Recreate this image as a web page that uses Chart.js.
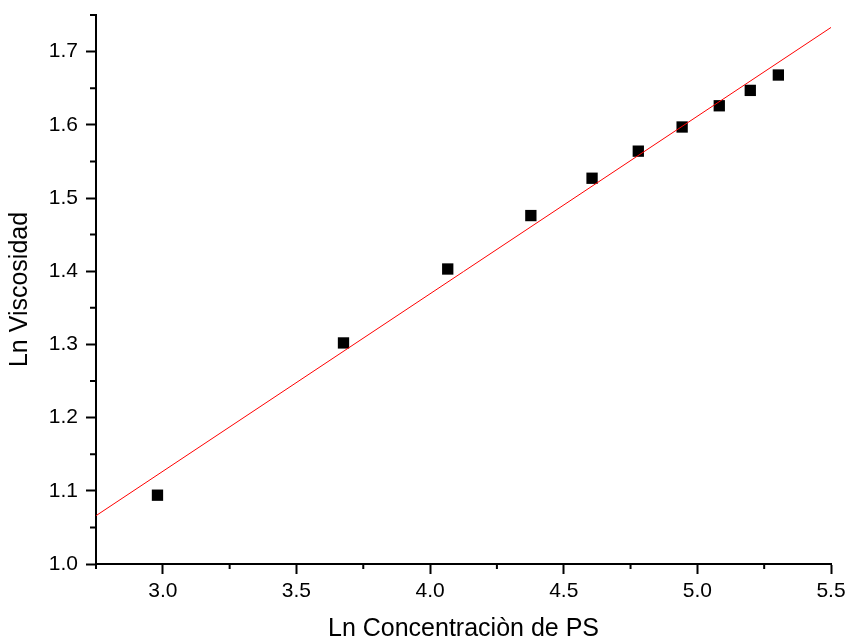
<!DOCTYPE html>
<html>
<head>
<meta charset="utf-8">
<title>Ln Viscosidad vs Ln Concentración</title>
<script src="https://cdn.jsdelivr.net/npm/chart.js@4/dist/chart.umd.min.js"></script>
<style>
  html, body { margin: 0; padding: 0; background: #fff; }
  canvas { display: block; }
</style>
</head>
<body>
<canvas id="chart" width="849" height="642"></canvas>
<script>
// data
let lnConc = [2.98, 3.676, 4.066, 4.377, 4.606, 4.779, 4.943, 5.082, 5.198, 5.303];
let lnVisc = [1.094, 1.302, 1.403, 1.476, 1.527, 1.564, 1.597, 1.626, 1.647, 1.668];

// linear fit (ends of the red line)
let fitX = [2.75, 5.5];
let fitY = [1.066, 1.733];

// axes
let xRange = [2.75, 5.5];
let yRange = [1.0, 1.75];
let xMinorTicks = [2.75, 3.25, 3.75, 4.25, 4.75, 5.25];
let yMinorTicks = [1.05, 1.15, 1.25, 1.35, 1.45, 1.55, 1.65, 1.75];

// general variables
let family = "'Liberation Sans', Arial, sans-serif";
let tickFont = { size: 21, family: family };
let titleFont = { size: 25, family: family, lineHeight: 1 };

// ! short minor ticks, placed with the scales
let minorTicks = {
  id: "minorTicks",
  afterDraw(chart) {
    let ctx = chart.ctx;
    let x = chart.scales.x;
    let y = chart.scales.y;
    ctx.save();
    ctx.strokeStyle = "#000";
    ctx.lineWidth = 2;
    ctx.beginPath();
    xMinorTicks.forEach((v) => {
      let px = x.getPixelForValue(v);
      ctx.moveTo(px, x.top);
      ctx.lineTo(px, x.top + 5);
    });
    yMinorTicks.forEach((v) => {
      let py = y.getPixelForValue(v);
      ctx.moveTo(y.right, py);
      ctx.lineTo(y.right - 6, py);
    });
    ctx.stroke();
    ctx.restore();
  },
};

let points = lnConc.map((v, i) => ({ x: v, y: lnVisc[i] }));
let fit = fitX.map((v, i) => ({ x: v, y: fitY[i] }));

new Chart(document.getElementById("chart"), {
  type: "scatter",
  plugins: [minorTicks],

  data: {
    datasets: [
      {
        label: "Datos",
        data: points,
        pointStyle: "rect",
        pointRadius: 8,
        pointBorderWidth: 0,
        backgroundColor: "#000",
        borderColor: "#000",
        order: 1,
      },
      {
        label: "Ajuste",
        type: "line",
        data: fit,
        showLine: true,
        borderColor: "#ff0000",
        borderWidth: 1,
        pointRadius: 0,
        fill: false,
        order: 0,
      },
    ],
  },

  options: {
    responsive: false,
    animation: false,
    devicePixelRatio: 1,
    layout: {
      padding: { top: 15, right: 18, left: 0, bottom: 0 },
    },
    plugins: {
      legend: { display: false },
      tooltip: { enabled: false },
    },
    scales: {
      x: {
        type: "linear",
        position: "bottom",
        min: xRange[0],
        max: xRange[1],
        afterFit(scale) {
          scale.height = 78;
          scale.paddingLeft = 0;
          scale.paddingRight = 0;
        },
        border: { display: true, color: "#000", width: 2 },
        grid: {
          display: true,
          drawOnChartArea: false,
          drawTicks: true,
          tickLength: 10,
          tickWidth: 2,
          tickColor: "#000",
        },
        ticks: {
          stepSize: 0.5,
          includeBounds: false,
          font: tickFont,
          color: "#000",
          padding: 5,
          maxRotation: 0,
          callback: (v) => Number(v).toFixed(1),
        },
        title: {
          display: true,
          text: "Ln Concentraciòn de PS",
          font: titleFont,
          color: "#000",
          padding: { top: 0, bottom: 0 },
        },
      },
      y: {
        type: "linear",
        position: "left",
        min: yRange[0],
        max: yRange[1],
        afterFit(scale) {
          scale.width = 96;
          scale.paddingTop = 0;
          scale.paddingBottom = 0;
        },
        border: { display: true, color: "#000", width: 2 },
        grid: {
          display: true,
          drawOnChartArea: false,
          drawTicks: true,
          tickLength: 10,
          tickWidth: 2,
          tickColor: "#000",
        },
        ticks: {
          stepSize: 0.1,
          includeBounds: false,
          font: tickFont,
          color: "#000",
          padding: 8,
          callback: (v) => Number(v).toFixed(1),
        },
        title: {
          display: true,
          text: "Ln Viscosidad",
          font: titleFont,
          color: "#000",
          padding: { top: 8, bottom: 0 },
        },
      },
    },
  },
});
</script>
</body>
</html>
